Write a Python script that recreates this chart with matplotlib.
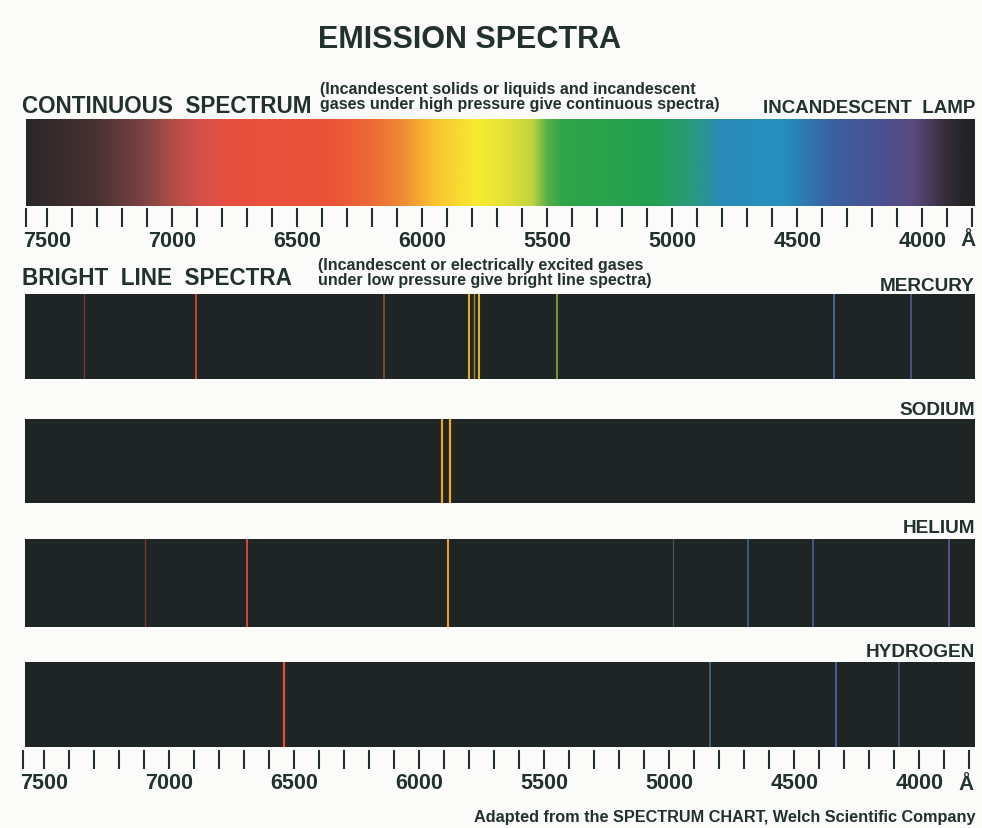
import matplotlib
matplotlib.use("Agg")
import matplotlib.pyplot as plt
from matplotlib import font_manager
from matplotlib.colors import to_rgb
from matplotlib.ticker import FixedLocator, FuncFormatter
import numpy as np

W, H = 982, 829
BG = "#fbfbf9"
INK = "#22302f"
PANEL = "#1f2424"

# continuous spectrum colour stops (wavelength in angstrom)
cont_wl = [7585, 7300, 7120, 7000, 6880, 6760, 6360, 6200, 6080, 5960, 5780,
           5650, 5560, 5500, 5440, 5080, 4930, 4800, 4560, 4360, 4160, 4040,
           3920, 3830, 3790]
cont_col = ["#2a2628", "#4a3232", "#7a4242", "#b04e46", "#d8504a", "#e8503e",
            "#ea5438", "#ec6a36", "#f08a35", "#f8c030", "#f8ec30", "#e0e038",
            "#c0d440", "#58b048", "#30a548", "#22a050", "#2a9a78", "#2a8ab8",
            "#2590c0", "#3a60a0", "#4a5090", "#5a4a80", "#3a3040", "#222426",
            "#222426"]

# colour of an emission line by wavelength
line_wl = [7600, 7000, 6500, 6100, 5900, 5750, 5450, 5000, 4700, 4400, 4000, 3800]
line_col = ["#b04a4a", "#d84a40", "#e84a3a", "#d86a48", "#f0a828", "#e8c030",
            "#9cb848", "#5a8a88", "#4a80c0", "#5478c0", "#6868b0", "#6a58a8"]

# bright line spectra: wavelength (A) and relative intensity
mercury_wl = [7350, 6900, 6150, 5812, 5792, 5772, 5460, 4352, 4044]
mercury_int = [0.3, 0.8, 0.5, 0.9, 0.45, 0.9, 0.7, 0.7, 0.6]
sodium_wl = [5920, 5888]
sodium_int = [1.0, 1.0]
helium_wl = [7104, 6700, 5896, 4996, 4696, 4436, 3892]
helium_int = [0.3, 0.85, 0.9, 0.3, 0.6, 0.6, 0.75]
hydrogen_wl = [6552, 4848, 4344, 4092]
hydrogen_int = [1.0, 0.6, 0.7, 0.5]

scale_ticks = list(range(3800, 7501, 100))
label_step = 500
XLIM = (7585, 3790)

installed = {f.name for f in font_manager.fontManager.ttflist}
WIDE = "Liberation Sans" if "Liberation Sans" in installed else "DejaVu Sans"
if "Liberation Sans Narrow" in installed:
    NARROW, nscale = "Liberation Sans Narrow", 1.0
else:
    NARROW, nscale = WIDE, 0.82

plt.rcParams["font.family"] = [WIDE, "DejaVu Sans"]
plt.rcParams["font.weight"] = "bold"

fig = plt.figure(figsize=(W / 100, H / 100), dpi=100, facecolor=BG)


def px_axes(x0, y0, x1, y1):
    return fig.add_axes([x0 / W, 1 - y1 / H, (x1 - x0) / W, (y1 - y0) / H])


def px_text(x, y, s, **kw):
    fig.text(x / W, 1 - y / H, s, color=INK, fontweight="bold", **kw)


def wl_colors(query, stops_wl, stops_col):
    order = np.argsort(stops_wl)
    xs = np.asarray(stops_wl, float)[order]
    rgb = np.array([to_rgb(c) for c in stops_col])[order]
    return np.stack([np.interp(query, xs, rgb[:, i]) for i in range(3)], axis=-1)


def bare(ax):
    ax.set_xlim(XLIM)
    ax.set_ylim(0, 1)
    ax.set_xticks([])
    ax.set_yticks([])
    for s in ax.spines.values():
        s.set_visible(False)


def line_panel(y0, y1, wl, inten):
    ax = px_axes(25, y0, 975, y1)
    ax.set_facecolor(PANEL)
    base = np.array(to_rgb(PANEL))
    cols = wl_colors(wl, line_wl, line_col)
    for w, i, c in zip(wl, inten, cols):
        mix = 0.35 + 0.65 * i
        ax.axvline(w, color=base + (c - base) * mix, lw=0.6 + 1.0 * i)
    bare(ax)


def scale(x0, x1, y):
    ax = px_axes(x0, y - 1, x1, y)
    ax.patch.set_visible(False)
    for s in ax.spines.values():
        s.set_visible(False)
    ax.set_xlim(XLIM)
    ax.set_yticks([])
    ax.xaxis.set_major_locator(FixedLocator([XLIM[0]] + scale_ticks))
    ax.xaxis.set_major_formatter(
        FuncFormatter(lambda v, p: f"{v:.0f}" if v % label_step == 0 else ""))
    ax.tick_params(axis="x", direction="out", length=19 * 0.72, width=1.5,
                   color=INK, pad=2.5, labelsize=15.5, labelcolor=INK)


# continuous spectrum bar
ax = px_axes(26, 120, 975, 207)
grid = np.linspace(XLIM[0], XLIM[1], 1200)
ax.imshow(wl_colors(grid, cont_wl, cont_col)[None, :, :],
          extent=(XLIM[0], XLIM[1], 0, 1), aspect="auto")
bare(ax)

scale(26, 975, 209)
px_text(968, 241, "Å", ha="center", va="center", fontsize=15)

line_panel(295, 380, mercury_wl, mercury_int)
line_panel(420, 504, sodium_wl, sodium_int)
line_panel(540, 628, helium_wl, helium_int)
line_panel(663, 748, hydrogen_wl, hydrogen_int)

scale(23, 972, 751)
px_text(966, 785, "Å", ha="center", va="center", fontsize=15)

# texts
px_text(470, 40, "EMISSION SPECTRA", ha="center", va="center", fontsize=22)
px_text(22, 113, "CONTINUOUS  SPECTRUM", ha="left", va="baseline",
        fontsize=19.8 * nscale, family=NARROW)
px_text(320, 97, "(Incandescent solids or liquids and incandescent\n"
        "gases under high pressure give continuous spectra)",
        ha="left", va="center", fontsize=14.1 * nscale, linespacing=1.05,
        family=NARROW)
px_text(975, 113, "INCANDESCENT  LAMP", ha="right", va="baseline",
        fontsize=16.5 * nscale, family=NARROW)
px_text(22, 285, "BRIGHT  LINE  SPECTRA", ha="left", va="baseline",
        fontsize=19.8 * nscale, family=NARROW)
px_text(318, 273, "(Incandescent or electrically excited gases\n"
        "under low pressure give bright line spectra)",
        ha="left", va="center", fontsize=14.1 * nscale, linespacing=1.05,
        family=NARROW)
for name, yb in [("MERCURY", 291), ("SODIUM", 415), ("HELIUM", 533),
                 ("HYDROGEN", 657)]:
    px_text(975, yb, name, ha="right", va="baseline", fontsize=16.7 * nscale,
            family=NARROW)
px_text(975, 822, "Adapted from the SPECTRUM CHART, Welch Scientific Company",
        ha="right", va="baseline", fontsize=11.7)

fig.savefig("out.png", dpi=100, facecolor=BG)
